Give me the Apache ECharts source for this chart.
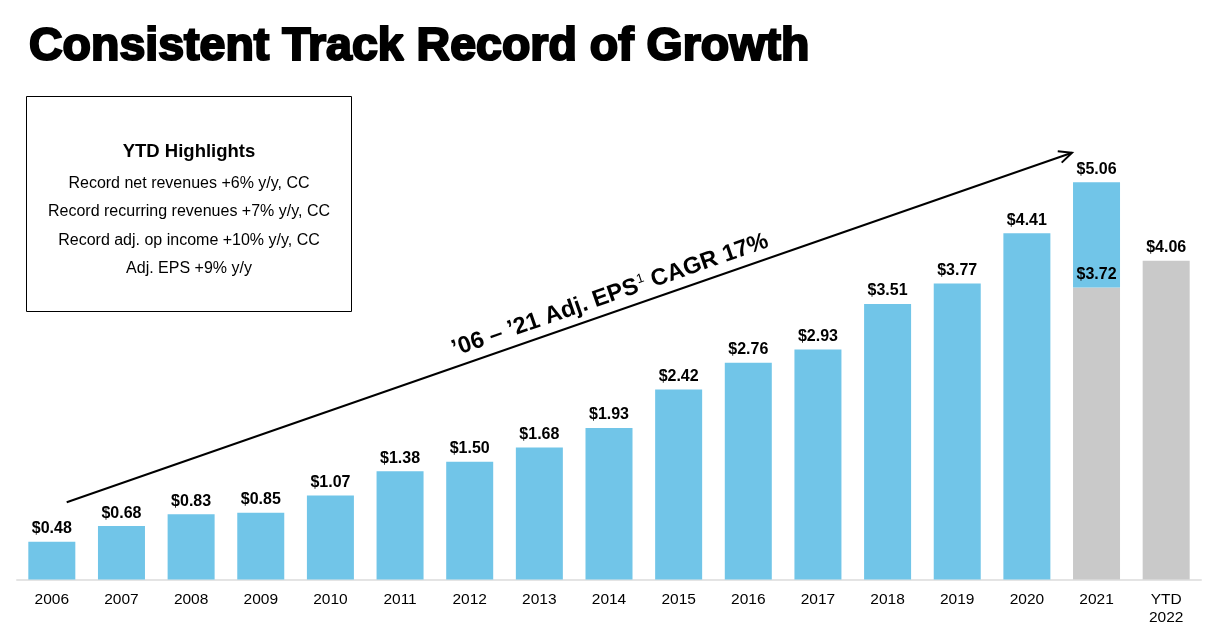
<!DOCTYPE html>
<html>
<head>
<meta charset="utf-8">
<script src="https://cdn.jsdelivr.net/npm/echarts@6/dist/echarts.min.js"></script>
<style>
  html, body { margin: 0; padding: 0; background: #fff; }
  #main { width: 1216px; height: 628px; }
</style>
</head>
<body>
<div id="main"></div>
<script>
(function () {
    // categories and values
    var years = ['2006', '2007', '2008', '2009', '2010', '2011', '2012', '2013', '2014',
                 '2015', '2016', '2017', '2018', '2019', '2020', '2021', 'YTD\n2022'];
    // full-year adj. EPS (blue)
    var annualEps = [0.48, 0.68, 0.83, 0.85, 1.07, 1.38, 1.50, 1.68, 1.93,
                     2.42, 2.76, 2.93, 3.51, 3.77, 4.41, 5.06, null];
    // year-to-date adj. EPS (grey)
    var ytdEps = [null, null, null, null, null, null, null, null, null,
                  null, null, null, null, null, null, 3.72, 4.06];
    var highlights = [
        'Record net revenues +6% y/y, CC',
        'Record recurring revenues +7% y/y, CC',
        'Record adj. op income +10% y/y, CC',
        'Adj. EPS +9% y/y'
    ];

    var FONT = '"Liberation Sans", Arial, sans-serif';
    var BLUE = '#71c5e8';
    var GREY = '#c9c9c9';

    // blue part sits on top of the grey one where both exist
    var bluePart = annualEps.map(function (v, i) {
        if (v == null) return null;
        return ytdEps[i] != null ? +(v - ytdEps[i]).toFixed(2) : v;
    });

    function money(v) { return '$' + v.toFixed(2); }

    var myChart = echarts.init(document.getElementById('main'));

    // arrow geometry (annotation only)
    var ax0 = 66.7, ay0 = 502.3, ax1 = 1072, ay1 = 152.7;
    var len = Math.sqrt((ax1 - ax0) * (ax1 - ax0) + (ay1 - ay0) * (ay1 - ay0));
    var ang = Math.atan2(ay0 - ay1, ax1 - ax0);

    var boxLines = [{
        type: 'rect',
        shape: { x: 26.5, y: 96.5, width: 325, height: 215 },
        style: { fill: '#fff', stroke: '#000', lineWidth: 1 }
    }, {
        type: 'text',
        x: 189, y: 152,
        style: { text: 'YTD Highlights', fontSize: 18.5, fontWeight: 'bold', fontFamily: FONT,
                 fill: '#000', align: 'center', verticalAlign: 'middle' }
    }];
    highlights.forEach(function (t, i) {
        boxLines.push({
            type: 'text',
            x: 189, y: 183.5 + i * 28.5,
            style: { text: t, fontSize: 16, fontFamily: FONT, fill: '#000',
                     align: 'center', verticalAlign: 'middle' }
        });
    });

    var option = {
        animation: false,
        backgroundColor: '#fff',
        grid: { left: 17, right: 15, top: 108.5, bottom: 48.5 },
        xAxis: {
            type: 'category',
            data: years,
            axisTick: { show: false },
            axisLine: { lineStyle: { color: '#e4e4e4', width: 2 } },
            axisLabel: { color: '#000', fontSize: 15.5, fontFamily: FONT, margin: 11, lineHeight: 18 }
        },
        yAxis: {
            type: 'value',
            min: 0,
            max: 6,
            show: false,
            splitLine: { show: false }
        },
        series: [{
            name: 'YTD',
            type: 'bar',
            stack: 'eps',
            barWidth: 47,
            data: ytdEps,
            itemStyle: { color: GREY },
            label: {
                show: true, position: 'top', distance: 5,
                color: '#000', fontSize: 16, fontWeight: 'bold', fontFamily: FONT,
                formatter: function (p) { return p.value == null ? '' : money(p.value); }
            }
        }, {
            name: 'Adj. EPS',
            type: 'bar',
            stack: 'eps',
            barWidth: 47,
            data: bluePart,
            itemStyle: { color: BLUE },
            label: {
                show: true, position: 'top', distance: 5,
                color: '#000', fontSize: 16, fontWeight: 'bold', fontFamily: FONT,
                formatter: function (p) {
                    var v = annualEps[p.dataIndex];
                    return v == null ? '' : money(v);
                }
            }
        }],
        graphic: [{
            type: 'text',
            x: 29, y: 47.5,
            style: {
                text: 'Consistent Track Record of Growth',
                fontSize: 46.5, fontWeight: 'bold', fontFamily: FONT,
                fill: '#000', stroke: '#000', lineWidth: 2.2,
                align: 'left', verticalAlign: 'middle'
            }
        }, {
            type: 'group',
            children: boxLines
        }, {
            type: 'group',
            x: ax1, y: ay1,
            rotation: ang,
            children: [{
                type: 'line',
                shape: { x1: -len, y1: 0, x2: 0, y2: 0 },
                style: { stroke: '#000', lineWidth: 2 }
            }, {
                type: 'polyline',
                shape: { points: [[-13, -6], [0, 0], [-13, 6]] },
                style: { stroke: '#000', lineWidth: 2, fill: null }
            }, {
                type: 'text',
                x: -483, y: -17,
                style: {
                    text: '\u201906 \u2013 \u201921 Adj. EPS{sup|1} CAGR 17%',
                    fontSize: 23.5, fontWeight: 'bold', fontFamily: FONT, fill: '#000',
                    align: 'center', verticalAlign: 'middle',
                    rich: {
                        sup: { fontSize: 13, fontWeight: 'normal', fontFamily: FONT,
                               fill: '#000', verticalAlign: 'top', padding: [0, 0, 11, 1] }
                    }
                }
            }]
        }]
    };

    myChart.setOption(option);
})();
</script>
</body>
</html>
